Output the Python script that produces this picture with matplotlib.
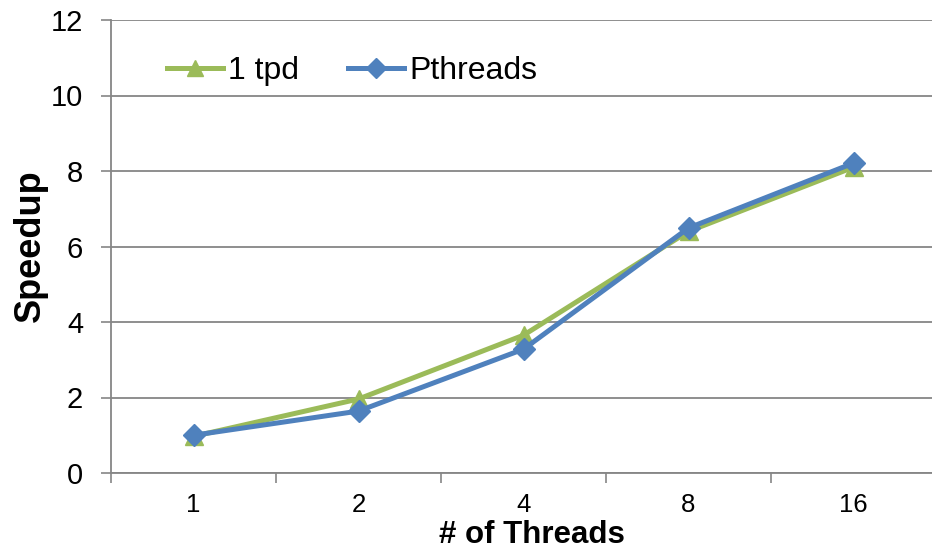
import matplotlib
matplotlib.use("Agg")
import matplotlib.pyplot as plt
from matplotlib.ticker import FixedLocator, NullFormatter

plt.rcParams['font.family'] = ['Liberation Sans', 'DejaVu Sans']

threads = ['1', '2', '4', '8', '16']
tpd = [0.97, 1.96, 3.65, 6.4, 8.1]
pthreads = [1.0, 1.64, 3.28, 6.49, 8.21]

green = '#9BBB59'
blue = '#4F81BD'
grid_gray = '#868686'

fig = plt.figure(figsize=(9.32, 5.5), dpi=100)
ax = fig.add_axes([111 / 932, 1 - 473 / 550, 825 / 932, 453 / 550])

x = range(len(threads))
ax.plot(x, tpd, color=green, lw=3.6, marker='^', ms=13,
        label='1 tpd', solid_joinstyle='round')
ax.plot(x, pthreads, color=blue, lw=3.6, marker='D', ms=11,
        label='Pthreads', solid_joinstyle='round')

ax.set_xlim(-0.5, len(threads) - 0.5)
ax.set_ylim(0, 12)
ax.set_yticks(range(0, 13, 2))
ax.tick_params(axis='y', labelsize=21, length=7, width=1.2,
               color=grid_gray, pad=13)
ax.yaxis.grid(True, color=grid_gray, lw=1.3)
ax.set_axisbelow(True)

# category boundaries get tick marks, labels sit at the centres
ax.xaxis.set_major_locator(FixedLocator([i - 0.5 for i in range(len(threads) + 1)]))
ax.xaxis.set_major_formatter(NullFormatter())
ax.xaxis.set_minor_locator(FixedLocator(list(x)))
ax.set_xticklabels(threads, minor=True)
ax.tick_params(axis='x', which='major', length=7, width=1.2, color=grid_gray)
ax.tick_params(axis='x', which='minor', length=0, labelsize=18.5, pad=14.5)

for side in ('top', 'right'):
    ax.spines[side].set_visible(False)
for side in ('left', 'bottom'):
    ax.spines[side].set_color(grid_gray)
    ax.spines[side].set_linewidth(1.3)

ax.set_xlabel('# of Threads', fontsize=22.5, fontweight='bold')
ax.xaxis.set_label_coords(0.51, -0.104)
ax.set_ylabel('Speedup', fontsize=26, fontweight='bold')
ax.yaxis.set_label_coords(-0.076, 0.502)

ax.legend(loc='center left', bbox_to_anchor=(0.068, 0.887), ncol=2,
          frameon=False, fontsize=23, handlelength=1.75, handletextpad=0.15,
          columnspacing=1.55, borderpad=0, borderaxespad=0, markerscale=0.9)

fig.savefig('out.png', dpi=100)
